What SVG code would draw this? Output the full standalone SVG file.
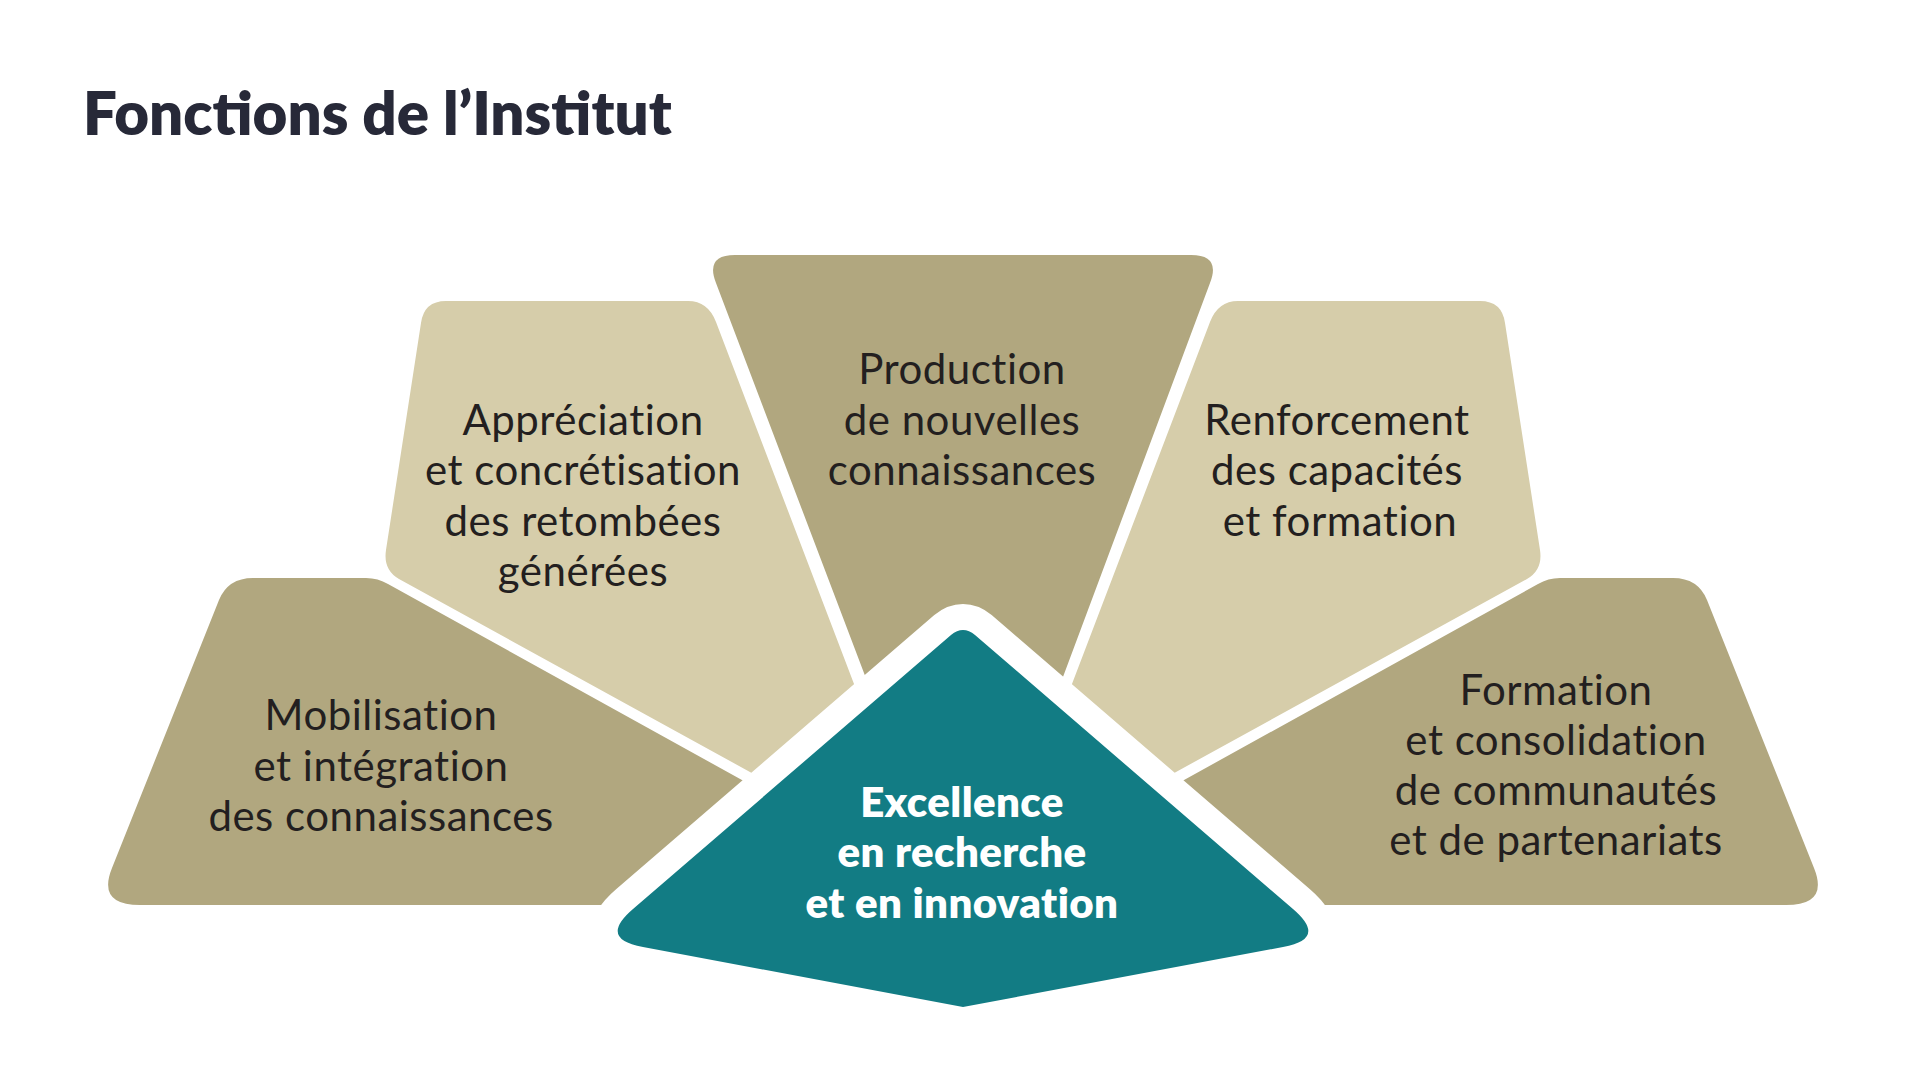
<svg xmlns="http://www.w3.org/2000/svg" width="1920" height="1080" viewBox="0 0 1920 1080">
  <style>
    .dark { fill: #B1A77F; }
    .light { fill: #D6CDAA; }
    .teal { fill: #127C84; stroke: #FFFFFF; stroke-width: 52; stroke-linejoin: round; paint-order: stroke; }
    .lbl { font-family: Lato, "Noto Sans", "Liberation Sans", sans-serif; font-size: 42px; fill: #231F20; text-anchor: middle; letter-spacing: 0.5px; }
    .lblw { font-family: Lato, "Noto Sans", "Liberation Sans", sans-serif; font-size: 42px; font-weight: 800; fill: #FFFFFF; text-anchor: middle; letter-spacing: 0.4px; }
    .title { font-family: Lato, "Noto Sans", "Liberation Sans", sans-serif; font-size: 60px; font-weight: 800; fill: #272938; }
  </style>
  <rect width="1920" height="1080" fill="#FFFFFF"/>
  <text class="title" x="83" y="135">Fonctions de l’Institut</text>

  <g id="node-mobilisation">
    <path class="dark" d="M 253,578 L 366,578 Q 378,578 388,584 L 760,790 L 640,905 L 140,905 Q 97,905 112,868 L 219,600 Q 228,578 253,578 Z"/>
  </g>
  <g id="node-appreciation">
    <path class="light" d="M 446,301 L 688,301 Q 708,301 716,322 L 883,760 L 790,794 L 399,579 Q 383,570 386,550 L 421,323 Q 424,301 446,301 Z"/>
  </g>
  <g id="node-production">
    <path class="dark" d="M 735,255 L 1191,255 Q 1221,255 1210,283 L 1032,760 L 897,760 L 716,283 Q 705,255 735,255 Z"/>
  </g>
  <g id="node-renforcement">
    <path class="light" d="M 1480,301 L 1238,301 Q 1218,301 1210,322 L 1043,760 L 1136,794 L 1527,579 Q 1543,570 1540,550 L 1505,323 Q 1502,301 1480,301 Z"/>
  </g>
  <g id="node-formation">
    <path class="dark" d="M 1673,578 L 1560,578 Q 1548,578 1538,584 L 1166,790 L 1286,905 L 1786,905 Q 1829,905 1814,868 L 1707,600 Q 1698,578 1673,578 Z"/>
  </g>
  <g id="node-excellence">
    <path class="teal" d="M 951,635 Q 963,625 975,635 L 1293,909 Q 1328,939 1283,947 L 963,1007 L 643,947 Q 598,939 633,909 Z"/>
  </g>

  <g id="labels">
    <text class="lbl" x="381" y="730">Mobilisation</text>
    <text class="lbl" x="381" y="781">et intégration</text>
    <text class="lbl" x="381" y="831">des connaissances</text>

    <text class="lbl" x="583" y="435">Appréciation</text>
    <text class="lbl" x="583" y="485">et concrétisation</text>
    <text class="lbl" x="583" y="536">des retombées</text>
    <text class="lbl" x="583" y="586">générées</text>

    <text class="lbl" x="962" y="384">Production</text>
    <text class="lbl" x="962" y="435">de nouvelles</text>
    <text class="lbl" x="962" y="485">connaissances</text>

    <text class="lbl" x="1337" y="435">Renforcement</text>
    <text class="lbl" x="1337" y="485">des capacités</text>
    <text class="lbl" x="1340" y="536">et formation</text>

    <text class="lbl" x="1556" y="705">Formation</text>
    <text class="lbl" x="1556" y="755">et consolidation</text>
    <text class="lbl" x="1556" y="805">de communautés</text>
    <text class="lbl" x="1556" y="855">et de partenariats</text>

    <text class="lblw" x="962" y="817">Excellence</text>
    <text class="lblw" x="962" y="867">en recherche</text>
    <text class="lblw" x="962" y="918">et en innovation</text>
  </g>
</svg>
